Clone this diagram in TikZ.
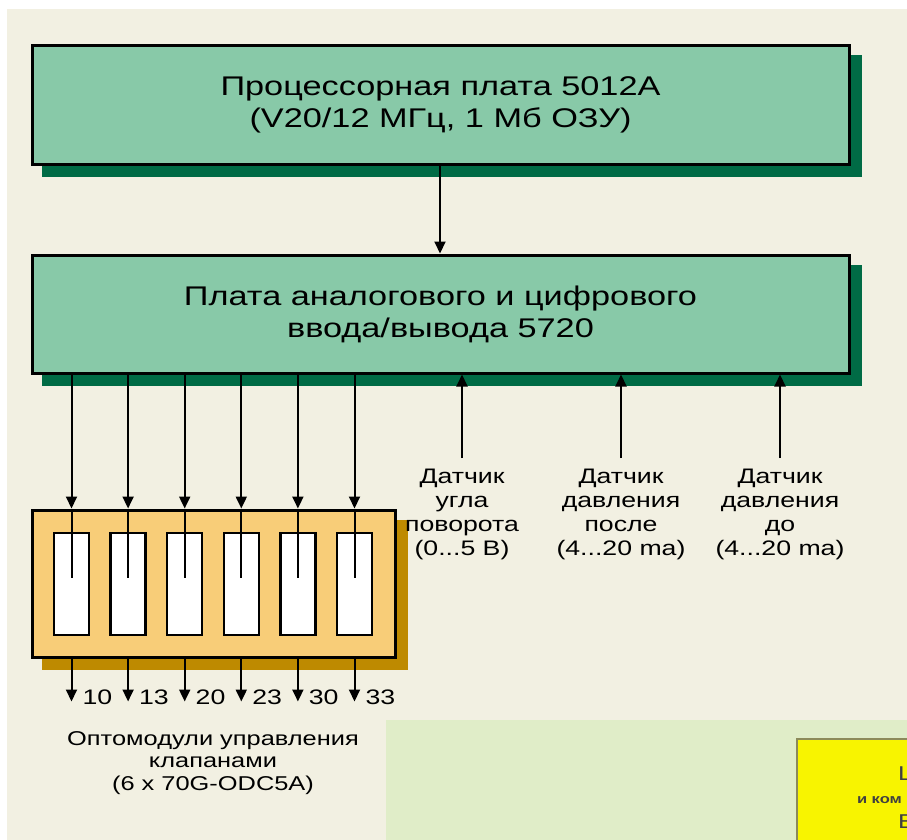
\documentclass[tikz,border=0pt]{standalone}
\usepackage{fontspec}
\setmainfont{Liberation Sans}[FakeStretch=1.27]
\usetikzlibrary{arrows.meta, positioning, calc, backgrounds}
\definecolor{cpage}{HTML}{F2F0E2}
\definecolor{cboard}{HTML}{88C9A8}
\definecolor{cboardsh}{HTML}{006B45}
\definecolor{copto}{HTML}{F8CD78}
\definecolor{coptosh}{HTML}{BE8A00}
\definecolor{cpanel}{HTML}{E0EDC8}
\definecolor{cnote}{HTML}{F8F400}
\definecolor{cnotedge}{HTML}{8C8A5A}
\tikzset{
  every picture/.style={line width=2pt},
  board/.style={draw=black, fill=cboard, line width=3pt, align=center, minimum width=817pt, minimum height=119pt, font=\fontsize{27}{32}\selectfont},
  arrow/.style={-{Triangle[length=12pt, width=11pt]}, draw=black, line width=2pt},
  label/.style={align=center, inner sep=2pt, font=\fontsize{21}{24}\selectfont},
}
\begin{document}
\begin{tikzpicture}[x=1pt, y=-1pt,
  modbox/.style={draw=black, fill=white, line width=2.5pt, minimum width=35pt, minimum height=102pt, inner sep=0pt},
  sensor/.style={label, anchor=north, inner ysep=10pt}]
  \useasboundingbox (0,0) rectangle (907,840);
  \begin{scope}[on background layer]
    \fill[cpage] (7,9) rectangle (907,840);
  \end{scope}
  % the two boards
  \node[board] (cpu) at (440.5,105) {Процессорная плата 5012A\\(V20/12 МГц, 1 Мб ОЗУ)};
  \node[board, minimum height=118pt] (io) at (440.5,314) {Плата аналогового и цифрового\\ввода/вывода 5720};
  \draw[arrow] (cpu.south -| 440,0) -- (io.north -| 440,0);
  % optomodule carrier with 6 modules
  \node[draw=black, fill=copto, line width=3pt, minimum width=363pt, minimum height=147pt] (opto) at (213.5,583.5) {};
  \foreach \i/\n in {1/10,2/13,3/20,4/23,5/30,6/33} {
    \node[modbox] (m\i) at ({71.5+56.6*(\i-1)},584) {};
    \draw[arrow] (io.south -| m\i) -- (opto.north -| m\i);
    \draw (opto.north -| m\i) -- ($(m\i.center)+(0,-6)$);
    \draw[arrow] (opto.south -| m\i) -- ++(0,43);
    \node[label, anchor=base west, inner sep=0pt] (n\i) at ($(opto.south -| m\i)+(10,46)$) {\n};
  }
  \node[label, font=\fontsize{20}{22.5}\selectfont] (optocap) at (213,763) {Оптомодули управления\\клапанами\\(6 x 70G-ODC5A)};
  % sensors
  \node[sensor] (s1) at (462,458) {Датчик\\угла\\поворота\\(0...5 В)};
  \node[sensor] (s2) at (621,458) {Датчик\\давления\\после\\(4...20 ma)};
  \node[sensor] (s3) at (780,458) {Датчик\\давления\\до\\(4...20 ma)};
  \foreach \s in {s1,s2,s3}
    \draw[arrow] (\s.north) -- (io.south -| \s);
  \begin{scope}[on background layer]
    \fill[cboardsh] ($(cpu.south west)+(11,11)$) rectangle ($(cpu.north east)+(11,11)$);
    \fill[cboardsh] ($(io.south west)+(11,11)$) rectangle ($(io.north east)+(11,11)$);
    \fill[coptosh] ($(opto.south west)+(11,11)$) rectangle ($(opto.north east)+(11,11)$);
  \end{scope}
  % next panel, cut off at the edge
  \fill[cpanel] (386,720) rectangle (907,840);
  \filldraw[fill=cnote, draw=cnotedge, line width=2pt] (797,739) rectangle (930,860);
  \node[anchor=west, inner sep=0pt, font=\fontsize{20}{22}\selectfont, text=black!75] (nt1) at (897,776) {Ц};
  \node[anchor=west, inner sep=0pt, font=\bfseries\fontsize{13}{15}\selectfont, text=black!75] (nt2) at (856,800) {и ком};
  \node[anchor=west, inner sep=0pt, font=\fontsize{20}{22}\selectfont, text=black!75] (nt3) at (897,822) {Е};
\end{tikzpicture}
\end{document}
